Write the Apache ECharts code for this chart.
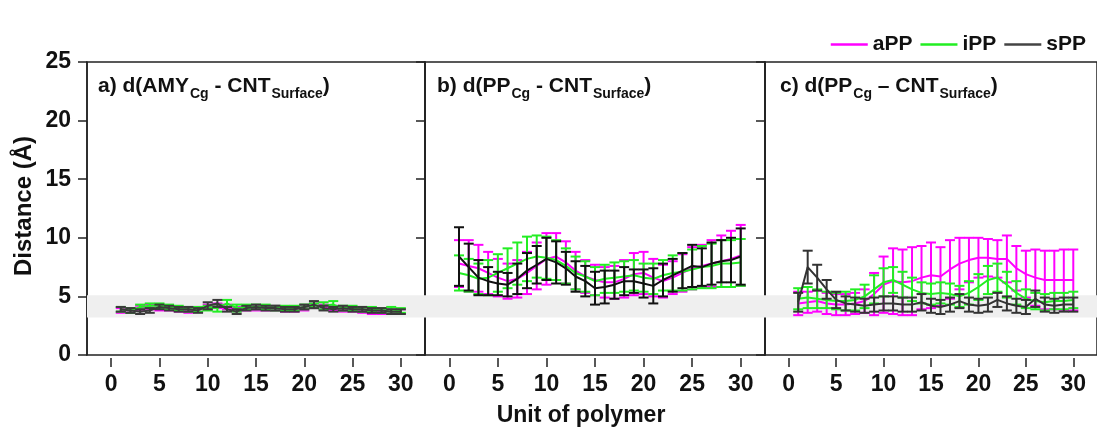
<!DOCTYPE html>
<html>
<head>
<meta charset="utf-8">
<title>Distance per polymer unit</title>
<script src="https://cdn.jsdelivr.net/npm/echarts@6/dist/echarts.min.js"></script>
<style>
  html, body { margin: 0; padding: 0; background: #ffffff; }
  #chart { width: 1097px; height: 432px; }
</style>
</head>
<body>
<div id="chart"></div>
<script>
// Polymer unit index (x values shared by every panel)
const units = Array.from({ length: 30 }, (_, i) => i + 1);
const xTickValues = [0, 5, 10, 15, 20, 25, 30];
const yTickValues = [0, 5, 10, 15, 20, 25];
const seriesNames = ['aPP', 'iPP', 'sPP'];
const panelLabels = [
  ['a) d(AMY', 'Cg', ' - CNT', 'Surface', ')'],
  ['b) d(PP', 'Cg', ' - CNT', 'Surface', ')'],
  ['c) d(PP', 'Cg', ' \u2013 CNT', 'Surface', ')']
];

// Panel a: d(AMY_Cg - CNT_Surface), mean and standard deviation (Å)
const aMeanAPP = [3.8, 3.8, 4.0, 4.1, 4.0, 4.0, 3.9, 3.8, 3.9, 4.1, 4.2, 4.1, 3.9, 4.0, 4.0, 4.0, 4.0, 3.9, 3.9, 4.0, 4.2, 4.1, 4.0, 3.9, 3.9, 3.8, 3.7, 3.7, 3.7, 3.7];
const aErrAPP  = [0.2, 0.2, 0.2, 0.2, 0.2, 0.2, 0.2, 0.2, 0.2, 0.2, 0.2, 0.2, 0.2, 0.2, 0.2, 0.2, 0.2, 0.2, 0.2, 0.2, 0.2, 0.2, 0.2, 0.2, 0.2, 0.2, 0.2, 0.2, 0.2, 0.2];
const aMeanIPP = [3.9, 3.8, 4.1, 4.2, 4.2, 4.1, 4.0, 3.9, 3.9, 4.0, 4.0, 4.4, 4.0, 4.1, 4.1, 4.1, 4.0, 4.0, 4.0, 4.1, 4.2, 4.2, 4.3, 4.0, 4.0, 3.9, 3.9, 3.8, 3.9, 3.8];
const aErrIPP  = [0.2, 0.2, 0.2, 0.2, 0.2, 0.2, 0.2, 0.2, 0.2, 0.2, 0.3, 0.3, 0.3, 0.2, 0.2, 0.2, 0.2, 0.2, 0.2, 0.2, 0.2, 0.3, 0.3, 0.2, 0.2, 0.2, 0.2, 0.2, 0.2, 0.2];
const aMeanSPP = [3.9, 3.8, 3.7, 3.8, 4.1, 4.0, 3.9, 3.9, 3.8, 4.2, 4.4, 3.9, 3.7, 4.0, 4.1, 4.0, 4.0, 3.9, 3.9, 4.1, 4.3, 4.0, 3.9, 4.0, 3.9, 3.9, 3.8, 3.8, 3.7, 3.7];
const aErrSPP  = [0.2, 0.2, 0.2, 0.2, 0.2, 0.2, 0.2, 0.2, 0.2, 0.3, 0.3, 0.2, 0.2, 0.2, 0.2, 0.2, 0.2, 0.2, 0.2, 0.2, 0.3, 0.2, 0.2, 0.2, 0.2, 0.2, 0.2, 0.2, 0.2, 0.2];

// Panel b: d(PP_Cg - CNT_Surface)
const bMeanAPP = [7.8, 7.6, 7.4, 7.0, 6.6, 6.3, 6.5, 7.0, 7.6, 8.2, 8.4, 7.9, 7.2, 6.7, 6.4, 6.2, 6.2, 6.5, 6.9, 7.0, 6.6, 6.3, 6.6, 7.0, 7.4, 7.6, 7.8, 8.0, 8.2, 8.5];
const bErrAPP  = [2.0, 2.2, 2.0, 1.8, 1.6, 1.5, 1.6, 1.8, 2.0, 2.2, 2.0, 1.8, 1.6, 1.4, 1.3, 1.3, 1.4, 1.6, 1.8, 1.8, 1.6, 1.4, 1.4, 1.6, 1.8, 1.8, 2.0, 2.2, 2.4, 2.6];
const bMeanIPP = [7.0, 6.8, 6.5, 6.6, 7.0, 7.4, 7.8, 8.2, 8.4, 8.3, 8.1, 7.6, 7.0, 6.7, 6.3, 6.5, 6.6, 6.7, 6.8, 6.6, 6.5, 6.8, 7.0, 7.1, 7.3, 7.5, 7.6, 7.8, 7.8, 7.9];
const bErrIPP  = [1.5, 1.4, 1.3, 1.5, 1.6, 1.7, 1.8, 1.9, 1.8, 1.8, 1.7, 1.5, 1.4, 1.3, 1.2, 1.2, 1.3, 1.3, 1.3, 1.2, 1.3, 1.3, 1.5, 1.6, 1.7, 1.8, 1.9, 2.0, 2.0, 2.0];
const bMeanSPP = [8.4, 7.5, 6.6, 6.3, 6.1, 6.0, 6.5, 7.2, 7.7, 8.2, 7.9, 7.4, 6.7, 6.3, 5.7, 5.8, 6.0, 6.3, 6.3, 6.1, 5.9, 6.4, 6.8, 7.2, 7.6, 7.5, 7.8, 8.0, 8.1, 8.4];
const bErrSPP  = [2.5, 2.0, 1.5, 1.2, 1.0, 1.0, 1.3, 1.5, 1.6, 1.8, 1.8, 1.4, 1.3, 1.3, 1.4, 1.4, 1.2, 1.2, 1.0, 1.2, 1.5, 1.4, 1.4, 1.5, 1.8, 1.6, 1.8, 1.8, 1.9, 2.4];

// Panel c: d(PP_Cg – CNT_Surface)
const cMeanAPP = [4.4, 4.5, 4.6, 4.4, 4.3, 4.3, 4.4, 4.6, 5.2, 6.0, 6.3, 6.2, 6.3, 6.6, 6.8, 6.7, 7.3, 7.8, 8.1, 8.3, 8.3, 8.2, 8.2, 7.4, 6.9, 6.6, 6.4, 6.4, 6.4, 6.4];
const cErrAPP  = [1.0, 0.9, 0.9, 0.9, 0.9, 0.9, 0.9, 1.0, 1.8, 2.4, 2.8, 2.8, 2.9, 2.7, 2.8, 2.5, 2.5, 2.2, 1.9, 1.7, 1.6, 1.6, 2.0, 1.9, 2.0, 2.4, 2.5, 2.5, 2.6, 2.6];
const cMeanIPP = [4.8, 4.9, 4.8, 4.7, 4.6, 4.6, 4.7, 5.0, 5.6, 6.2, 6.4, 6.0, 5.6, 5.3, 5.2, 5.3, 5.2, 5.0, 5.3, 5.8, 6.4, 6.6, 6.0, 5.3, 4.8, 4.6, 4.5, 4.6, 4.6, 4.7];
const cErrIPP  = [0.9, 0.9, 0.8, 0.7, 0.7, 0.8, 0.9, 1.0, 1.2, 1.2, 1.1, 1.1, 1.0, 0.9, 0.9, 0.9, 0.9, 0.9, 1.0, 1.1, 1.2, 1.2, 1.1, 1.0, 0.8, 0.7, 0.7, 0.7, 0.7, 0.7];
const cMeanSPP = [4.5, 7.5, 6.6, 5.6, 4.7, 4.4, 4.3, 4.2, 4.3, 4.4, 4.4, 4.3, 4.3, 4.5, 4.2, 4.1, 4.3, 4.6, 4.3, 4.2, 4.3, 4.7, 4.4, 4.2, 4.1, 4.8, 4.3, 4.2, 4.3, 4.3];
const cErrSPP  = [0.8, 1.4, 1.1, 0.8, 0.7, 0.6, 0.6, 0.6, 0.6, 0.6, 0.6, 0.6, 0.6, 0.7, 0.6, 0.6, 0.6, 0.6, 0.6, 0.6, 0.6, 0.6, 0.6, 0.6, 0.6, 0.7, 0.6, 0.6, 0.6, 0.6];

// Shaded contact-distance band (Å)
const bandRange = [3.2, 5.1];

const panels = [
  { means: [aMeanAPP, aMeanIPP, aMeanSPP], errs: [aErrAPP, aErrIPP, aErrSPP], colors: ['#ff00ff', '#22ee22', '#3a3a3a'] },
  { means: [bMeanAPP, bMeanIPP, bMeanSPP], errs: [bErrAPP, bErrIPP, bErrSPP], colors: ['#ff00ff', '#22ee22', '#111111'] },
  { means: [cMeanAPP, cMeanIPP, cMeanSPP], errs: [cErrAPP, cErrIPP, cErrSPP], colors: ['#ff00ff', '#22ee22', '#333333'] }
];
const legendColors = ['#ff00ff', '#22ee22', '#444444'];

const FONT = '"Liberation Sans", Arial, Helvetica, sans-serif';
const INK = '#111111';
const gridBoxes = [
  { left: 87, width: 338 },
  { left: 425, width: 340 },
  { left: 765, width: 338 }
];

const grids = [], xAxes = [], yAxes = [], series = [], titles = [];

gridBoxes.forEach((g, p) => {
  grids.push({
    left: g.left, width: g.width, top: 62, height: 293,
    show: true, borderColor: '#222', borderWidth: 1.5, backgroundColor: 'transparent'
  });
  xAxes.push({
    type: 'value', gridIndex: p, min: -2.5, max: 32.5, offset: 3,
    axisLine: { show: false, onZero: false },
    axisTick: { show: true, length: 9, inside: false, customValues: xTickValues, lineStyle: { color: '#222', width: 1.5 } },
    axisLabel: { show: true, customValues: xTickValues, margin: 15, color: INK, fontFamily: FONT, fontWeight: 'bold', fontSize: 23 },
    splitLine: { show: false }
  });
  yAxes.push({
    type: 'value', gridIndex: p, min: 0, max: 25, interval: 5,
    axisLine: { show: true, onZero: false, lineStyle: { color: '#222', width: 1.5 } },
    axisTick: { show: true, length: 9, inside: false, lineStyle: { color: '#222', width: 1.5 } },
    axisLabel: { show: p === 0, margin: 16, color: INK, fontFamily: FONT, fontWeight: 'bold', fontSize: 23 },
    splitLine: { show: false }
  });

  // background band
  series.push({
    type: 'line', xAxisIndex: p, yAxisIndex: p, data: [], silent: true, z: 0,
    markArea: {
      silent: true,
      itemStyle: { color: '#efefef' },
      data: [[{ yAxis: bandRange[0] }, { yAxis: bandRange[1] }]]
    }
  });

  const pan = panels[p];
  seriesNames.forEach((name, s) => {
    const color = pan.colors[s];
    const mean = pan.means[s], err = pan.errs[s];
    series.push({
      name: name, type: 'line', xAxisIndex: p, yAxisIndex: p,
      data: units.map((u, i) => [u, mean[i]]),
      showSymbol: false, symbol: 'none',
      lineStyle: { color: color, width: 2 }, itemStyle: { color: color },
      z: 2 + s * 2, silent: true
    });
    series.push({
      name: name, type: 'custom', xAxisIndex: p, yAxisIndex: p,
      data: units.map((u, i) => [u, mean[i] - err[i], mean[i] + err[i]]),
      encode: { x: 0, y: [1, 2] },
      itemStyle: { color: color },
      z: 3 + s * 2, silent: true,
      renderItem: function (params, api) {
        const x = api.value(0);
        const lo = api.coord([x, api.value(1)]);
        const hi = api.coord([x, api.value(2)]);
        const hw = 5;
        const st = { stroke: color, lineWidth: 2 };
        return {
          type: 'group',
          children: [
            { type: 'line', shape: { x1: hi[0], y1: hi[1], x2: lo[0], y2: lo[1] }, style: st },
            { type: 'line', shape: { x1: hi[0] - hw, y1: hi[1], x2: hi[0] + hw, y2: hi[1] }, style: st },
            { type: 'line', shape: { x1: lo[0] - hw, y1: lo[1], x2: lo[0] + hw, y2: lo[1] }, style: st }
          ]
        };
      }
    });
  });

  const lab = panelLabels[p];
  titles.push({
    left: [93, 432, 775][p], top: 68,
    text: '{m|' + lab[0] + '}{s|' + lab[1] + '}{m|' + lab[2] + '}{s|' + lab[3] + '}{m|' + lab[4] + '}',
    textStyle: {
      rich: {
        m: { fontFamily: FONT, fontWeight: 'bold', fontSize: 21, color: INK, lineHeight: 28, verticalAlign: 'bottom', padding: [0, 0, 4, 0] },
        s: { fontFamily: FONT, fontWeight: 'bold', fontSize: 14, color: INK, lineHeight: 16, verticalAlign: 'bottom', padding: [0, 0, 0, 1] }
      }
    }
  });
});

const chart = echarts.init(document.getElementById('chart'), null, { renderer: 'canvas' });
chart.setOption({
  animation: false,
  backgroundColor: '#ffffff',
  title: titles,
  legend: {
    right: 6, top: 29, width: 300, icon: 'rect', itemWidth: 37, itemHeight: 2.5, itemGap: 8,
    selectedMode: false,
    textStyle: { fontFamily: FONT, fontWeight: 'bold', fontSize: 21, color: INK },
    data: seriesNames.map((n, i) => ({ name: n, itemStyle: { color: legendColors[i] } }))
  },
  grid: grids,
  xAxis: xAxes,
  yAxis: yAxes,
  series: series,
  graphic: [
    {
      type: 'text', x: 24, y: 206, rotation: Math.PI / 2,
      style: { text: 'Distance (\u00c5)', fontFamily: FONT, fontWeight: 'bold', fontSize: 24, fill: INK, align: 'center', verticalAlign: 'middle' }
    },
    {
      type: 'text', x: 581, y: 416,
      style: { text: 'Unit of polymer', fontFamily: FONT, fontWeight: 'bold', fontSize: 23, fill: INK, align: 'center', verticalAlign: 'middle' }
    }
  ]
});
</script>
</body>
</html>
